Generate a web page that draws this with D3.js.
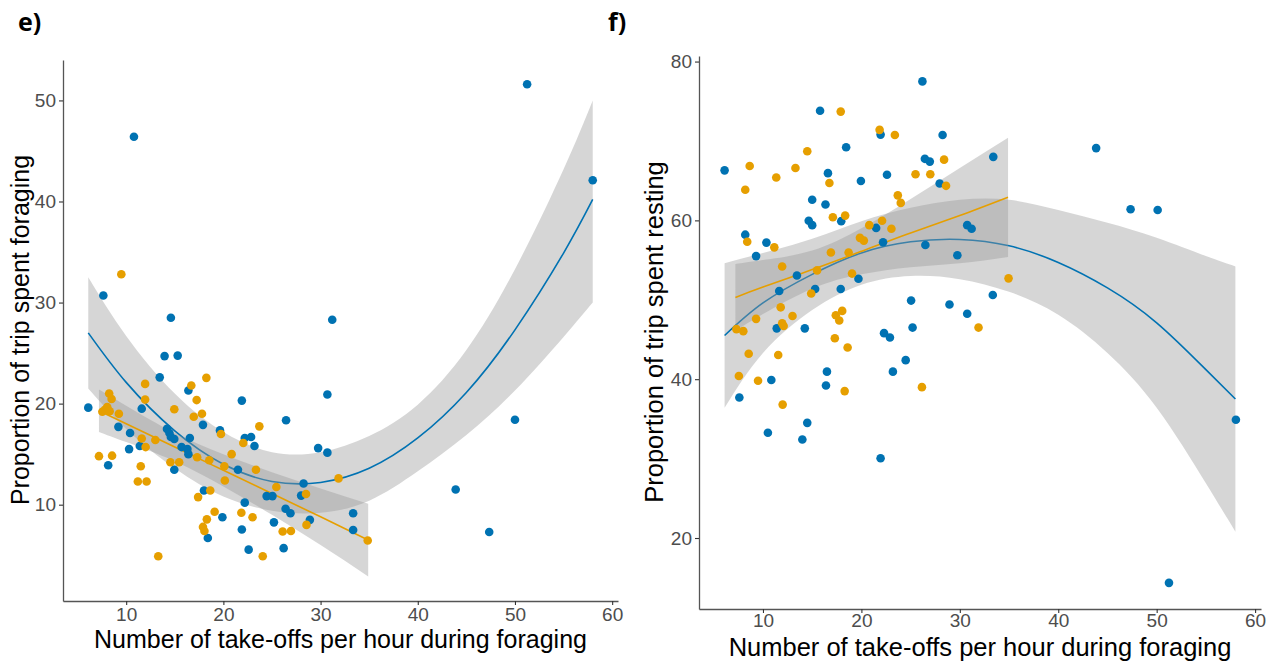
<!DOCTYPE html>
<html>
<head>
<meta charset="utf-8">
<script src="https://cdn.jsdelivr.net/npm/d3@7"></script>
<style>
  html, body { margin: 0; padding: 0; background: #ffffff; }
  svg { display: block; }
</style>
</head>
<body>
<svg id="chart" width="1285" height="664"></svg>
<script>
// ---- Panel e): proportion of trip spent foraging ----
const foragingBlue = [
  [6.1,19.6],[7.65,30.7],[10.8,46.4],[8.15,13.9],[9.2,17.7],[10.4,17.1],[10.3,15.5],[11.6,19.5],
  [11.4,15.8],[13.45,22.6],[13.95,24.7],[14.6,28.5],[15.3,24.75],[14.2,17.5],[14.45,17.1],[14.6,16.7],
  [14.95,16.5],[14.95,13.45],[15.7,15.7],[16.3,15.5],[16.4,15.0],[16.4,21.3],[16.55,16.6],[17.9,17.9],
  [18.0,11.4],[18.4,6.7],[19.65,17.35],[19.9,8.75],[21.5,13.45],[21.9,20.3],[21.9,7.55],[22.2,10.2],
  [22.2,16.6],[22.85,16.7],[23.2,15.8],[22.6,5.55],[24.45,10.85],[25.05,10.85],[25.2,8.25],[26.2,5.7],
  [26.45,18.35],[26.4,9.6],[26.9,9.15],[28.0,10.9],[28.25,12.1],[28.9,8.5],[29.75,15.6],[30.7,15.15],
  [30.7,20.9],[31.2,28.3],[33.35,9.15],[33.35,7.5],[43.9,11.5],[47.35,7.3],[50.0,18.4],[51.25,51.6],
  [58.0,42.1]
];
const foragingOrange = [
  [9.5,32.8],[7.2,14.8],[7.55,19.2],[7.8,19.4],[8.05,19.65],[8.25,21.0],[8.5,20.45],[8.3,19.25],
  [8.55,14.85],[9.25,19.0],[11.2,12.3],[12.1,12.3],[11.5,13.8],[11.6,16.55],[11.95,21.95],[11.95,20.4],
  [12.0,15.7],[13.0,16.4],[13.3,4.9],[14.55,14.2],[14.95,19.45],[15.45,14.2],[16.7,21.8],[16.95,18.7],
  [17.25,20.35],[17.4,10.75],[17.3,14.7],[17.8,19.0],[18.25,22.55],[17.9,7.8],[18.05,7.4],[18.3,8.55],
  [18.65,11.4],[18.55,14.4],[19.1,9.3],[19.75,17.0],[20.1,13.8],[20.15,12.4],[20.85,15.0],[21.85,9.2],
  [22.05,16.1],[23.0,8.75],[23.35,13.45],[23.7,17.75],[24.05,4.9],[25.45,11.75],[26.1,7.35],[26.95,7.4],
  [28.5,11.05],[28.55,8.0],[31.85,12.6],[34.85,6.45]
];
// smoothed fits with confidence band: x, fit, lower, upper
const foragingBlueFitX     = [6.1, 10, 15, 20, 25, 30, 35, 40, 45, 50, 55, 58];
const foragingBlueFit      = [27.0, 22.1, 17.3, 14.0, 12.3, 12.2, 13.6, 16.6, 21.1, 27.3, 34.9, 40.2];
const foragingBlueLower    = [21.5, 17.5, 13.6, 10.8, 9.4, 9.2, 10.4, 13.3, 16.9, 21.3, 26.6, 30.0];
const foragingBlueUpper    = [32.5, 26.7, 21.0, 17.2, 15.2, 15.2, 16.8, 19.9, 25.3, 33.3, 43.2, 50.0];
const foragingOrangeFitX   = [7.2, 10, 15, 20, 25, 30, 34.9];
const foragingOrangeFit    = [19.3, 18.0, 15.7, 13.4, 11.1, 8.8, 6.5];
const foragingOrangeLower  = [17.2, 16.2, 14.3, 11.8, 9.0, 6.0, 2.9];
const foragingOrangeUpper  = [21.4, 19.8, 17.1, 15.0, 13.2, 11.6, 10.1];

// ---- Panel f): proportion of trip spent resting ----
const restingBlue = [
  [6.1,66.3],[7.6,37.7],[8.2,58.2],[9.3,55.5],[10.35,57.2],[10.5,33.25],[10.85,39.9],[11.4,46.4],
  [11.65,51.1],[13.45,53.05],[14.0,32.4],[14.25,46.4],[14.5,34.5],[14.65,59.95],[15.0,59.4],[15.0,62.6],
  [15.3,51.35],[15.8,73.8],[16.35,62.0],[16.4,39.2],[16.5,40.95],[16.6,65.95],[17.95,59.9],[17.9,51.35],
  [18.45,69.2],[19.7,52.65],[19.95,64.95],[21.5,59.05],[21.95,70.8],[21.95,30.05],[22.2,57.25],[22.3,45.8],
  [22.6,65.75],[22.9,45.25],[23.2,40.95],[24.5,42.4],[25.05,49.9],[25.2,46.5],[26.2,77.5],[26.45,67.75],
  [26.5,56.9],[26.95,67.4],[27.95,64.65],[28.25,70.75],[28.95,49.4],[29.75,55.6],[30.75,59.4],[30.75,48.25],
  [31.2,58.95],[33.35,50.6],[33.4,68.0],[43.85,69.1],[47.35,61.4],[50.1,61.3],[51.25,14.35],[58.05,34.9]
];
const restingOrange = [
  [7.3,46.3],[7.55,40.4],[8.0,46.05],[8.2,63.85],[8.4,57.3],[8.55,43.2],[8.65,66.85],[9.3,47.6],
  [9.5,39.8],[11.15,56.6],[11.35,65.4],[11.55,43.05],[11.8,49.05],[11.95,54.2],[11.95,47.05],[12.1,46.7],
  [12.0,36.8],[13.0,47.95],[13.3,66.6],[14.5,68.7],[14.9,50.8],[15.5,53.7],[16.75,64.7],[16.9,55.95],
  [17.1,60.4],[17.3,45.15],[17.4,48.05],[17.75,47.4],[17.9,73.7],[18.05,48.6],[18.3,38.5],[18.35,60.6],
  [18.6,44.0],[18.7,55.95],[19.05,53.3],[19.85,57.8],[20.25,57.45],[20.8,59.4],[21.85,71.4],[22.1,59.95],
  [23.05,58.95],[23.4,70.75],[23.7,63.15],[24.0,62.2],[25.5,65.8],[26.15,39.0],[27.0,65.8],[28.4,67.65],
  [28.6,64.35],[31.9,46.5],[34.95,52.7]
];
const restingBlueFitX     = [6.1, 10, 15, 20, 25, 30, 35, 40, 45, 50, 55, 58];
const restingBlueFit      = [45.5, 49.6, 53.2, 55.9, 57.3, 57.6, 56.8, 54.7, 51.5, 47.1, 41.2, 37.5];
const restingBlueLower    = [36.4, 43.3, 48.7, 51.9, 53.0, 52.6, 51.0, 48.1, 43.3, 36.4, 26.9, 20.8];
const restingBlueUpper    = [54.6, 55.9, 57.7, 59.9, 61.6, 62.6, 62.6, 61.3, 59.7, 57.8, 55.5, 54.2];
const restingOrangeFitX   = [7.2, 10, 15, 20, 25, 30, 34.9];
const restingOrangeFit    = [50.3, 51.6, 53.8, 56.1, 58.4, 60.6, 62.9];
const restingOrangeLower  = [46.1, 48.2, 51.4, 53.2, 54.1, 54.6, 55.4];
const restingOrangeUpper  = [54.5, 55.0, 56.2, 59.0, 62.7, 66.6, 70.4];

const xTicks = [10, 20, 30, 40, 50, 60];
const foragingTicks = [10, 20, 30, 40, 50];
const restingTicks = [20, 40, 60, 80];
const xTitle = "Number of take-offs per hour during foraging";

const BLUE = "#0072B2", ORANGE = "#E69F00";
const svg = d3.select("#chart");
svg.append("rect").attr("width", 1285).attr("height", 664).attr("fill", "#ffffff");

function zipBand(xs, fit, lo, hi) {
  return xs.map((x, i) => ({ x, fit: fit[i], lo: lo[i], hi: hi[i] }));
}

function drawPanel(cfg) {
  const g = svg.append("g");
  const x = d3.scaleLinear().domain(cfg.xDomain).range(cfg.xRange);
  const y = d3.scaleLinear().domain(cfg.yDomain).range(cfg.yRange);

  // confidence bands and fitted lines
  cfg.fits.forEach(f => {
    const band = zipBand(f.x, f.fit, f.lo, f.hi);
    g.append("path")
      .datum(band)
      .attr("fill", "#999999")
      .attr("fill-opacity", 0.4)
      .attr("d", d3.area().x(d => x(d.x)).y0(d => y(d.lo)).y1(d => y(d.hi)).curve(d3.curveNatural));
    g.append("path")
      .datum(band)
      .attr("fill", "none")
      .attr("stroke", f.color)
      .attr("stroke-width", 1.6)
      .attr("d", d3.line().x(d => x(d.x)).y(d => y(d.fit)).curve(d3.curveNatural));
  });

  // observations
  cfg.points.forEach(p => {
    g.append("g").selectAll("circle")
      .data(p.data)
      .join("circle")
      .attr("cx", d => x(d[0]))
      .attr("cy", d => y(d[1]))
      .attr("r", 4.3)
      .attr("fill", p.color);
  });

  // axes
  const xAxis = g.append("g")
    .attr("transform", `translate(0,${cfg.yRange[0]})`)
    .call(d3.axisBottom(x).tickValues(xTicks).tickSize(4).tickPadding(cfg.xTickPad).tickSizeOuter(0));
  const yAxis = g.append("g")
    .attr("transform", `translate(${cfg.xRange[0]},0)`)
    .call(d3.axisLeft(y).tickValues(cfg.yTicks).tickSize(4).tickPadding(3).tickSizeOuter(0));
  [xAxis, yAxis].forEach(a => {
    a.select(".domain").attr("stroke", "#555555").attr("stroke-width", 1.3);
    a.selectAll(".tick line").attr("stroke", "#333333").attr("stroke-width", 1.1);
    a.selectAll(".tick text")
      .attr("fill", "#4D4D4D")
      .attr("font-family", "'Liberation Sans', Arial, sans-serif")
      .attr("font-size", 19);
  });

  // titles
  g.append("text")
    .attr("x", (cfg.xRange[0] + cfg.xRange[1]) / 2)
    .attr("y", cfg.xTitleY)
    .attr("text-anchor", "middle")
    .attr("font-family", "'Liberation Sans', Arial, sans-serif")
    .attr("font-size", cfg.titleSize)
    .attr("fill", "#000000")
    .text(xTitle);
  g.append("text")
    .attr("transform", `translate(${cfg.yTitleX},${cfg.yTitleCY}) rotate(-90)`)
    .attr("text-anchor", "middle")
    .attr("font-family", "'Liberation Sans', Arial, sans-serif")
    .attr("font-size", cfg.titleSize)
    .attr("fill", "#000000")
    .text(cfg.yTitle);
  g.append("text")
    .attr("x", cfg.tagX)
    .attr("y", 31)
    .attr("font-family", "'Open Sans', 'Liberation Sans', sans-serif")
    .attr("font-weight", "bold")
    .attr("font-size", 25)
    .attr("fill", "#000000")
    .text(cfg.tag);
}

drawPanel({
  tag: "e)", tagX: 18,
  xDomain: [3.5, 60.6], xRange: [63, 618],
  yDomain: [0.47, 54.0], yRange: [601, 60],
  yTicks: foragingTicks,
  xTickPad: 3,
  xTitleY: 648, yTitleX: 29, yTitleCY: 330,
  titleSize: 25,
  yTitle: "Proportion of trip spent foraging",
  fits: [
    { x: foragingBlueFitX, fit: foragingBlueFit, lo: foragingBlueLower, hi: foragingBlueUpper, color: BLUE },
    { x: foragingOrangeFitX, fit: foragingOrangeFit, lo: foragingOrangeLower, hi: foragingOrangeUpper, color: ORANGE }
  ],
  points: [ { data: foragingBlue, color: BLUE }, { data: foragingOrange, color: ORANGE } ]
});

drawPanel({
  tag: "f)", tagX: 608,
  xDomain: [3.5, 60.6], xRange: [699, 1261],
  yDomain: [11.06, 80.7], yRange: [609, 56],
  yTicks: restingTicks,
  xTickPad: 1,
  xTitleY: 656, yTitleX: 663, yTitleCY: 332,
  titleSize: 25.5,
  yTitle: "Proportion of trip spent resting",
  fits: [
    { x: restingBlueFitX, fit: restingBlueFit, lo: restingBlueLower, hi: restingBlueUpper, color: BLUE },
    { x: restingOrangeFitX, fit: restingOrangeFit, lo: restingOrangeLower, hi: restingOrangeUpper, color: ORANGE }
  ],
  points: [ { data: restingBlue, color: BLUE }, { data: restingOrange, color: ORANGE } ]
});
</script>
</body>
</html>
